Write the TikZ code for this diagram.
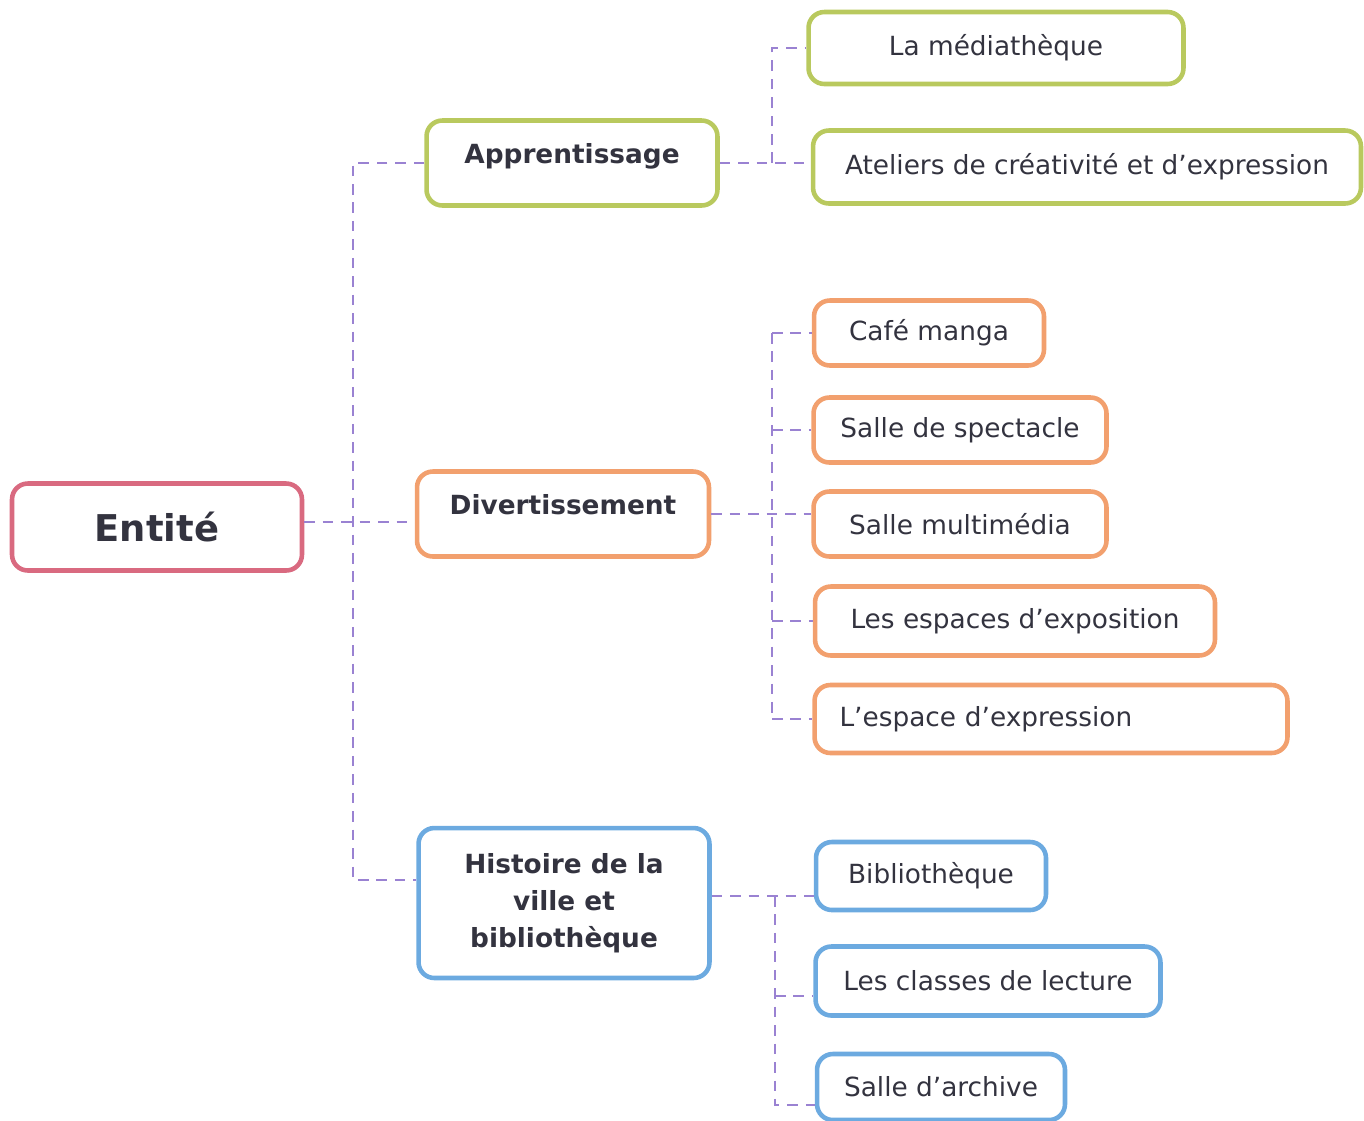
\documentclass[tikz,border=0pt]{standalone}
\usepackage{fontspec}
\setmainfont{DejaVu Sans}
\usetikzlibrary{positioning}

\definecolor{rose}{HTML}{D96A80}
\definecolor{vert}{HTML}{B9C95E}
\definecolor{orangec}{HTML}{F2A06E}
\definecolor{bleu}{HTML}{6CAAE0}
\definecolor{lien}{HTML}{9A82D2}
\definecolor{texte}{HTML}{33333F}

\tikzset{
  boite/.style={draw, line width=2.6pt, rounded corners=9pt, inner sep=0pt,
    text=texte, font=\fontsize{15}{18}\selectfont},
  titre/.style={boite, font=\bfseries\fontsize{15}{21}\selectfont, align=center},
  lien/.style={draw=lien, line width=1.1pt, dash pattern=on 6pt off 4.5pt},
}

\begin{document}
\begin{tikzpicture}[x=0.02cm, y=-0.02cm]
  \useasboundingbox (0,0) rectangle (1364,1120);

  % racine
  \node[boite, draw=rose, minimum width=5.8cm, minimum height=1.74cm,
        font=\bfseries\fontsize{21}{24}\selectfont] (entite) at (157,527) {Entité};

  % trois branches
  \node[titre, draw=vert, minimum width=5.82cm, minimum height=1.7cm, text depth=0.4cm] (appr) at (572,163) {Apprentissage};
  \node[titre, draw=orangec, minimum width=5.84cm, minimum height=1.7cm, text depth=0.4cm] (divert) at (563,514) {Divertissement};
  \node[titre, draw=bleu, minimum width=5.82cm, minimum height=3cm] (histo) at (564,903)
       {Histoire de la\\ville et\\bibliothèque};

  % Apprentissage
  \node[boite, draw=vert, minimum width=7.5cm, minimum height=1.44cm] (media) at (996,48) {La médiathèque};
  \node[boite, draw=vert, minimum width=10.96cm, minimum height=1.46cm] (atel) at (1087,167)
       {Ateliers de créativité et d’expression};

  % Divertissement
  \node[boite, draw=orangec, minimum width=4.6cm, minimum height=1.3cm] (cafe) at (929,333) {Café manga};
  \node[boite, draw=orangec, minimum width=5.86cm, minimum height=1.3cm] (spect) at (960,430) {Salle de spectacle};
  \node[boite, draw=orangec, minimum width=5.86cm, minimum height=1.3cm] (multi) at (960,524) {Salle multimédia};
  \node[boite, draw=orangec, minimum width=8cm, minimum height=1.38cm] (expo) at (1015,621)
       {Les espaces d’exposition};
  \node[boite, draw=orangec, minimum width=9.46cm, minimum height=1.36cm, text width=8.46cm,
        align=left] (expr) at (1051,719) {L’espace d’expression};

  % Histoire
  \node[boite, draw=bleu, minimum width=4.6cm, minimum height=1.36cm] (biblio) at (931,876) {Bibliothèque};
  \node[boite, draw=bleu, minimum width=6.9cm, minimum height=1.38cm] (classes) at (988,981)
       {Les classes de lecture};
  \node[boite, draw=bleu, minimum width=4.96cm, minimum height=1.32cm] (archive) at (941,1087)
       {Salle d’archive};

  % troncs
  \coordinate (t0) at (353,0);
  \coordinate (ta) at (772,0);
  \coordinate (td) at (772,0);
  \coordinate (th) at (775,0);
  \coordinate (hb) at (0,896);

  % liens de la racine
  \draw[lien] (entite.east |- 0,522) -- (divert.west |- 0,522);
  \draw[lien] (appr.west) -- (appr.west -| t0) -- ([yshift=0.46cm]histo.west -| t0) -- ([yshift=0.46cm]histo.west);

  % liens Apprentissage
  \draw[lien] (appr.east) -- (appr.east -| atel.west);
  \draw[lien] (appr.east -| ta) -- (media.west -| ta) -- (media.west);

  % liens Divertissement
  \draw[lien] (divert.east) -- (divert.east -| multi.west);
  \draw[lien] (cafe.west -| td) -- (expr.west -| td);
  \foreach \n in {cafe,spect,expo,expr}
    \draw[lien] (\n.west -| td) -- (\n.west);

  % liens Histoire
  \draw[lien] (histo.east |- hb) -- (biblio.west |- hb);
  \draw[lien] (hb -| th) -- ([yshift=-0.36cm]archive.west -| th) -- ([yshift=-0.36cm]archive.west);
  \draw[lien] ([yshift=-0.3cm]classes.west -| th) -- ([yshift=-0.3cm]classes.west);
\end{tikzpicture}
\end{document}
